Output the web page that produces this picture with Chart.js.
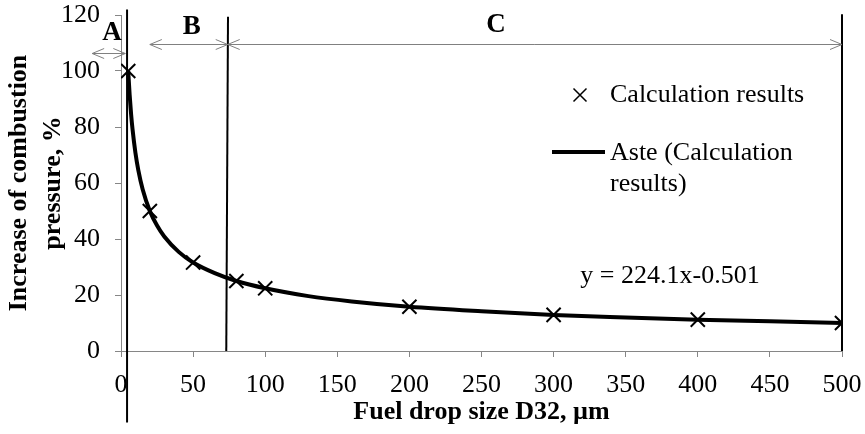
<!DOCTYPE html>
<html lang="en">
<head>
  <meta charset="UTF-8" />
  <title>Increase of combustion pressure vs fuel drop size</title>
  <script src="https://cdn.jsdelivr.net/npm/chart.js"></script>
  <style>
    body {
      margin: 0;
      padding: 0;
      background: #fff;
    }
    #wrap {
      width: 865px;
      height: 434px;
    }
  </style>
</head>
<body>

  <div id="wrap">
    <canvas id="pressureChart" width="865" height="434"></canvas>
  </div>

  <script>
    // Calculated points: drop size D32 (µm) and pressure increase (%)
    const dropSize = [5, 20, 50, 80, 100, 200, 300, 400, 500];
    const pressureRise = [100, 50, 31.6, 25, 22.4, 15.8, 12.9, 11.2, 10];

    // Power trend line
    const trendX = [5, 6, 7, 8, 10, 12, 15, 20, 25, 30, 40, 50, 65, 80, 100, 130, 160, 200, 250, 300, 350, 400, 450, 500];
    const trendY = [100, 91.5, 84.6, 79.2, 70.8, 64.6, 57.8, 50, 44.8, 40.9, 35.4, 31.6, 27.8, 25, 22.4, 19.6, 17.7, 15.8, 14.2, 12.9, 12, 11.2, 10.6, 10];

    // Zones A, B, C: arrow spans and boundary lines (in axis units)
    const zoneLabels = ['A', 'B', 'C'];
    const zoneFrom = [-20, 20, 74];
    const zoneTo = [3, 74, 500];
    const zoneArrowY = [106.5, 109.6, 109.6];
    const boundaryTopX = [4.2, 74.2, 500];
    const boundaryBottomX = [4.2, 73, 500];
    const boundaryTopY = [122, 119.4, 120.3];
    const boundaryBottomY = [-25.5, 0, 0];

    // Axis ticks
    const xTickStep = 50;
    const yTickStep = 20;

    const SERIF = '"Liberation Serif", "Times New Roman", serif';
    Chart.defaults.font.family = SERIF;
    Chart.defaults.color = '#000';

    // label placement for the zone letters (axis units)
    const zoneLabelPos = [
      { x: -6.2, y: 113.6 },
      { x: 49, y: 115.6 },
      { x: 260, y: 116.4 }
    ];

    function drawArrowHead(ctx, x, y, dir) {
      ctx.beginPath();
      ctx.moveTo(x - dir * 12, y - 5);
      ctx.lineTo(x, y);
      ctx.lineTo(x - dir * 12, y + 5);
      ctx.stroke();
    }

    function drawCross(ctx, x, y, r) {
      ctx.beginPath();
      ctx.moveTo(x - r, y - r);
      ctx.lineTo(x + r, y + r);
      ctx.moveTo(x - r, y + r);
      ctx.lineTo(x + r, y - r);
      ctx.stroke();
    }

    // zones, equation and legend drawn on top of the chart
    const extrasPlugin = {
      id: 'extras',
      afterDraw(chart) {
        const ctx = chart.ctx;
        const xs = chart.scales.x;
        const ys = chart.scales.y;
        ctx.save();

        // boundary lines
        ctx.strokeStyle = '#000';
        ctx.lineWidth = 2;
        boundaryTopX.forEach((bx, i) => {
          ctx.beginPath();
          ctx.moveTo(xs.getPixelForValue(bx), ys.getPixelForValue(boundaryTopY[i]));
          ctx.lineTo(xs.getPixelForValue(boundaryBottomX[i]), ys.getPixelForValue(boundaryBottomY[i]));
          ctx.stroke();
        });

        // double arrows for each zone
        ctx.strokeStyle = '#808080';
        ctx.lineWidth = 1;
        zoneLabels.forEach((name, i) => {
          const x1 = xs.getPixelForValue(zoneFrom[i]);
          const x2 = xs.getPixelForValue(zoneTo[i]);
          const y = Math.round(ys.getPixelForValue(zoneArrowY[i])) + 0.5;
          ctx.beginPath();
          ctx.moveTo(x1, y);
          ctx.lineTo(x2, y);
          ctx.stroke();
          drawArrowHead(ctx, x1, y, -1);
          drawArrowHead(ctx, x2, y, 1);
        });

        // zone letters
        ctx.fillStyle = '#000';
        ctx.font = 'bold 27px ' + SERIF;
        ctx.textAlign = 'center';
        ctx.textBaseline = 'middle';
        zoneLabels.forEach((name, i) => {
          ctx.fillText(name, xs.getPixelForValue(zoneLabelPos[i].x), ys.getPixelForValue(zoneLabelPos[i].y));
        });

        // trend line equation
        ctx.font = '26px ' + SERIF;
        ctx.fillText('y = 224.1x-0.501', 670, 276);

        // legend
        const pts = chart.data.datasets[0];
        const trend = chart.data.datasets[1];
        ctx.strokeStyle = pts.borderColor;
        ctx.lineWidth = 1.5;
        drawCross(ctx, 580, 95, 6.5);
        ctx.strokeStyle = trend.borderColor;
        ctx.lineWidth = trend.borderWidth;
        ctx.beginPath();
        ctx.moveTo(552, 152);
        ctx.lineTo(605, 152);
        ctx.stroke();
        ctx.textAlign = 'left';
        ctx.fillText(pts.label, 610, 95);
        ctx.fillText('Aste (Calculation', 610, 153);
        ctx.fillText('results)', 610, 184);

        ctx.restore();
      }
    };

    new Chart(document.getElementById('pressureChart'), {
      type: 'scatter',
      data: {
        datasets: [
          {
            label: 'Calculation results',
            data: dropSize.map((x, i) => ({ x: x, y: pressureRise[i] })),
            pointStyle: 'crossRot',
            pointRadius: 10,
            pointBorderWidth: 2,
            borderColor: '#000',
            backgroundColor: '#000',
            showLine: false
          },
          {
            type: 'line',
            label: 'Aste (Calculation results)',
            data: trendX.map((x, i) => ({ x: x, y: trendY[i] })),
            borderColor: '#000',
            borderWidth: 4,
            pointRadius: 0,
            cubicInterpolationMode: 'monotone',
            fill: false
          }
        ]
      },
      options: {
        responsive: false,
        animation: false,
        events: [],
        layout: {
          padding: { top: 15, right: 23, bottom: 0, left: 0 }
        },
        plugins: {
          legend: { display: false },
          tooltip: { enabled: false }
        },
        scales: {
          x: {
            type: 'linear',
            min: 0,
            max: 500,
            ticks: {
              stepSize: xTickStep,
              font: { size: 26 },
              color: '#000',
              padding: 13,
              maxRotation: 0
            },
            grid: {
              drawOnChartArea: false,
              drawTicks: true,
              tickLength: 6,
              color: '#868686'
            },
            border: { color: '#868686', width: 1 },
            title: {
              display: true,
              text: 'Fuel drop size D32, µm',
              font: { size: 26, weight: 'bold' },
              color: '#000',
              padding: { top: 0, bottom: 6 }
            },
            afterFit(scale) {
              scale.height = 83;
              scale.paddingLeft = 0;
              scale.paddingRight = 0;
            }
          },
          y: {
            type: 'linear',
            min: 0,
            max: 120,
            ticks: {
              stepSize: yTickStep,
              font: { size: 26 },
              color: '#000',
              padding: 15
            },
            grid: {
              drawOnChartArea: false,
              drawTicks: true,
              tickLength: 6,
              color: '#868686'
            },
            border: { color: '#868686', width: 1 },
            title: {
              display: true,
              text: ['Increase of combustion', 'pressure, %'],
              font: { size: 26, weight: 'bold', lineHeight: 1.28 },
              color: '#000',
              padding: { top: 3, bottom: 0 }
            },
            afterFit(scale) {
              scale.width = 121;
              scale.paddingTop = 0;
              scale.paddingBottom = 0;
            }
          }
        }
      },
      plugins: [extrasPlugin]
    });
  </script>

</body>
</html>
